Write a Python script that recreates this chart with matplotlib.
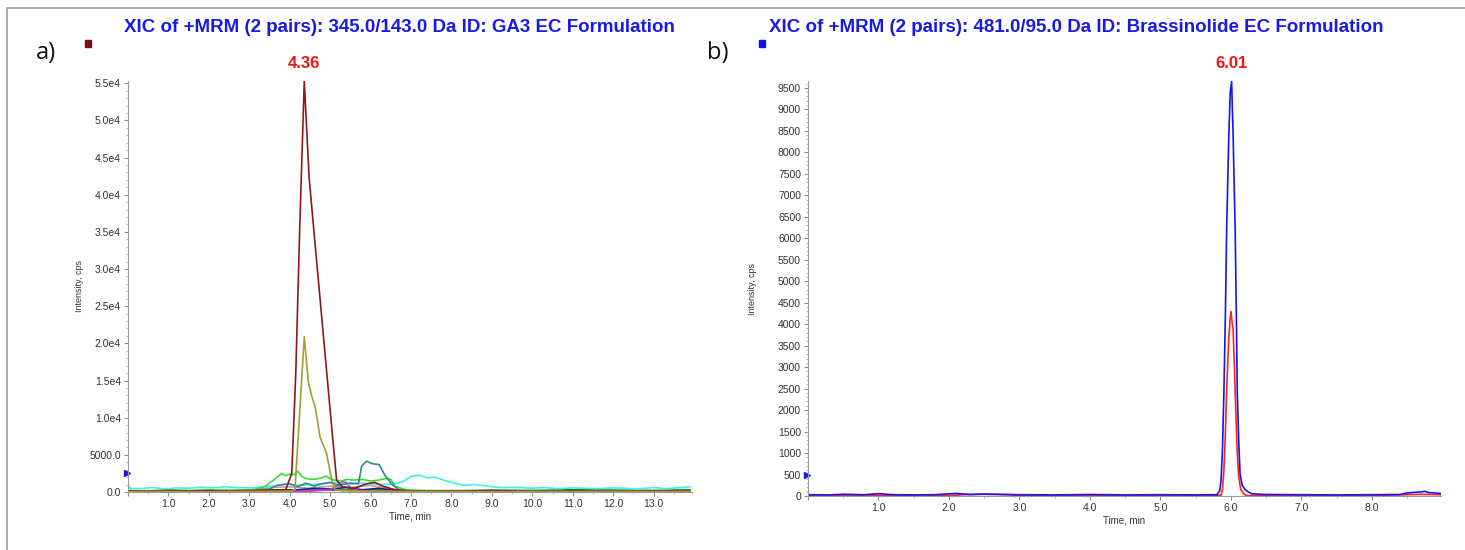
import matplotlib
matplotlib.use("Agg")
import matplotlib.pyplot as plt
import matplotlib.transforms as mtransforms
from matplotlib.ticker import MultipleLocator, FuncFormatter
from matplotlib.patches import Rectangle

plt.rcParams['font.family'] = ['Liberation Sans', 'DejaVu Sans']

# ---------------- panel a) GA3, XIC traces (time in min, intensity in cps)
ga3_t = [0.0, 0.5, 1.0, 1.5, 2.0, 2.5, 3.0, 3.5, 3.9, 4.05, 4.15, 4.25, 4.36,
         4.48, 4.6, 4.75, 4.9, 5.05, 5.16, 5.3, 5.6, 5.9, 6.1, 6.3, 6.6, 7.0,
         8.0, 9.0, 10.0, 11.0, 12.0, 13.0, 13.9]
ga3_v = [150, 120, 200, 150, 180, 130, 200, 250, 300, 2500, 16000, 36000, 55300,
         42300, 35000, 26000, 17000, 8000, 1600, 700, 500, 1100, 1300, 800, 300, 150,
         120, 180, 100, 150, 120, 160, 130]

olive_t = [0.0, 1.0, 2.0, 3.0, 4.0, 4.13, 4.25, 4.36, 4.46, 4.55, 4.63, 4.75,
           4.91, 5.04, 5.12, 5.3, 6.0, 8.0, 10.0, 12.0, 13.9]
olive_v = [50, 60, 40, 80, 100, 300, 11000, 20900, 14800, 12800, 11450, 7400,
           5200, 1600, 300, 150, 100, 60, 50, 70, 60]

teal_t = [0.0, 1.0, 2.0, 3.0, 3.5, 3.7, 4.0, 4.2, 4.4, 4.6, 4.8, 5.0, 5.2, 5.5,
          5.7, 5.78, 5.9, 6.05, 6.21, 6.35, 6.53, 6.74, 7.0, 8.0, 9.0, 10.0,
          11.0, 12.0, 13.0, 13.9]
teal_v = [50, 80, 60, 100, 400, 900, 1100, 700, 1200, 800, 1100, 1300, 900, 1200,
          1100, 3500, 4150, 3800, 3700, 2300, 1000, 150, 80, 60, 70, 50,
          80, 60, 70, 60]

green_t = [0.0, 0.5, 1.0, 1.5, 2.0, 2.5, 3.0, 3.2, 3.4, 3.6, 3.8, 3.9, 4.0, 4.1,
           4.2, 4.3, 4.4, 4.6, 4.8, 4.9, 5.0, 5.1, 5.3, 5.4, 5.6, 5.8, 6.0, 6.2,
           6.4, 6.5, 6.6, 6.8, 7.0, 7.5, 8.0, 9.0, 10.0, 11.0, 12.0, 13.0, 13.9]
green_v = [200, 150, 250, 180, 300, 200, 250, 400, 800, 1600, 2500, 2200, 2400, 2300,
           2800, 2100, 1800, 1700, 1900, 2150, 1800, 1600, 1500, 1700, 1600, 1700, 1480, 1600,
           1830, 1700, 800, 400, 220, 150, 200, 120, 180, 100, 150, 120, 200]

cyan_t = [0.0, 0.05, 0.3, 0.6, 0.9, 1.2, 1.5, 1.8, 2.1, 2.4, 2.7, 3.0, 3.3, 3.6,
          3.9, 4.2, 4.5, 4.8, 5.1, 5.4, 5.7, 6.0, 6.3, 6.6, 6.8, 7.0, 7.2, 7.4,
          7.6, 7.8, 8.0, 8.3, 8.6, 9.0, 9.3, 9.6, 10.0, 10.3, 10.6, 11.0, 11.3,
          11.6, 12.0, 12.3, 12.6, 13.0, 13.3, 13.6, 13.9]
cyan_v = [1000, 500, 450, 600, 400, 550, 500, 650, 550, 700, 600, 550, 650, 800,
          1100, 900, 1000, 1100, 1300, 1000, 1200, 1100, 1000, 1100, 1400, 2100, 2250, 1900,
          2000, 1600, 1300, 900, 1000, 700, 600, 650, 500, 600, 450, 550, 500,
          450, 550, 500, 400, 600, 450, 550, 700]

magenta_t = [0.0, 3.0, 4.5, 5.0, 5.2, 5.3, 5.4, 5.5, 5.7, 6.0, 8.0, 13.9]
magenta_v = [30, 50, 100, 300, 1000, 1400, 1300, 600, 200, 100, 50, 40]

navy_t = [0.0, 3.5, 4.2, 4.6, 5.0, 5.4, 5.8, 6.2, 6.6, 7.0, 13.9]
navy_v = [20, 30, 300, 500, 400, 600, 300, 500, 200, 50, 30]

dkgreen_t = [0, 1, 2, 3, 4, 5, 6, 7, 8, 9, 10, 11, 12, 13, 13.9]
dkgreen_v = [100, 200, 150, 250, 300, 250, 300, 200, 150, 250, 200, 300, 250, 200, 300]

pink_t = [0.0, 3.0, 3.5, 4.0, 4.5, 5.0, 5.5, 6.0, 6.5, 7.0, 13.9]
pink_v = [100, 200, 600, 700, 500, 800, 600, 900, 400, 150, 100]

# ---------------- panel b) Brassinolide
bras_blue_t = [0.0, 0.3, 0.5, 0.8, 1.0, 1.2, 1.5, 1.8, 2.1, 2.3, 2.5, 2.7, 3.0, 3.5,
               4.0, 4.5, 5.0, 5.5, 5.8, 5.84, 5.86, 5.88, 5.9, 5.92, 5.94, 5.97,
               5.99, 6.01, 6.02, 6.03, 6.04, 6.06, 6.08, 6.09, 6.11, 6.13, 6.16,
               6.2, 6.25, 6.3, 6.5, 7.0, 7.5, 8.0, 8.4, 8.5, 8.6, 8.7, 8.75, 8.8,
               8.9, 8.97]
bras_blue_v = [30, 25, 40, 30, 55, 30, 25, 30, 60, 35, 45, 40, 30, 25,
               35, 25, 30, 25, 30, 120, 370, 1100, 2400, 4100, 6270, 8400,
               9400, 9650, 9000, 8500, 7700, 6200, 3800, 2400, 1300, 500, 250,
               150, 90, 50, 35, 30, 25, 30, 35, 70, 85, 95, 110, 80,
               70, 60]

bras_red_t = [0.0, 1.0, 2.0, 2.2, 2.5, 2.8, 3.0, 4.0, 5.0, 5.86, 5.88, 5.9, 5.92,
              5.94, 5.97, 5.99, 6.0, 6.02, 6.03, 6.05, 6.07, 6.09, 6.11, 6.14,
              6.18, 6.22, 7.0, 8.0, 8.5, 8.7, 8.97]
bras_red_v = [10, 15, 10, 30, 40, 30, 10, 10, 10, 20, 150, 600, 1400,
              2500, 3700, 4150, 4290, 4000, 3900, 3000, 1900, 1000, 450, 150,
              50, 10, 10, 10, 30, 40, 30]


def fmt_a(v, pos):
    if v == 0:
        return '0.0'
    if v < 1e4:
        return '%.1f' % v
    return '%.1fe4' % (v / 1e4)


def style_axes(ax):
    for s in ('top', 'right'):
        ax.spines[s].set_visible(False)
    for s in ('left', 'bottom'):
        ax.spines[s].set_color('#9a9a9a')
        ax.spines[s].set_linewidth(0.8)
    ax.tick_params(which='major', length=3, width=0.6, color='#777777',
                   labelcolor='#333333', labelsize=7.5, pad=2)
    ax.tick_params(which='minor', length=1.5, width=0.5, color='#999999')
    ax.set_xlabel('Time, min', fontsize=7, color='#333333', labelpad=2)
    ax.set_ylabel('Intensity, cps', fontsize=6.5, color='#333333', labelpad=10)


fig = plt.figure(figsize=(14.65, 5.5), dpi=100)

# outer frame of the figure
fig.patches.append(Rectangle((7 / 1465, -0.1), 1.2, 1.1 - 8 / 550,
                             transform=fig.transFigure, fill=False,
                             ec='#a0a0a0', lw=1.2))

# ---- a)
ax1 = fig.add_axes([128 / 1465, 1 - 492 / 550, 564 / 1465, 411 / 550])
traces_a = [
    (dkgreen_t, dkgreen_v, '#1e7a1e'),
    (pink_t, pink_v, '#d09a9a'),
    (navy_t, navy_v, '#202090'),
    (magenta_t, magenta_v, '#e030e0'),
    (cyan_t, cyan_v, '#3ff0f0'),
    (green_t, green_v, '#35dd35'),
    (teal_t, teal_v, '#2e8b8b'),
    (ga3_t, ga3_v, '#8b1a1a'),
    (olive_t, olive_v, '#a0a030'),
]
for t, v, c in traces_a:
    ax1.plot(t, v, color=c, lw=1.2)
ax1.set_xlim(0, 13.95)
ax1.set_ylim(0, 55300)
ax1.xaxis.set_major_locator(MultipleLocator(1.0))
ax1.xaxis.set_minor_locator(MultipleLocator(0.5))
ax1.yaxis.set_major_locator(MultipleLocator(5000))
ax1.yaxis.set_minor_locator(MultipleLocator(1000))
ax1.xaxis.set_major_formatter(FuncFormatter(lambda v, p: '' if v == 0 else '%.1f' % v))
ax1.yaxis.set_major_formatter(FuncFormatter(fmt_a))
style_axes(ax1)
ax1.yaxis.set_label_coords(-0.078, 0.5)

# ---- b)
ax2 = fig.add_axes([808 / 1465, 1 - 496 / 550, 633 / 1465, 415 / 550])
ax2.plot(bras_red_t, bras_red_v, color='#ff2020', lw=1.2)
ax2.plot(bras_blue_t, bras_blue_v, color='#1515ee', lw=1.2)
ax2.set_xlim(0, 8.98)
ax2.set_ylim(0, 9660)
ax2.xaxis.set_major_locator(MultipleLocator(1.0))
ax2.xaxis.set_minor_locator(MultipleLocator(0.5))
ax2.yaxis.set_major_locator(MultipleLocator(500))
ax2.yaxis.set_minor_locator(MultipleLocator(100))
ax2.xaxis.set_major_formatter(FuncFormatter(lambda v, p: '' if v == 0 else '%.1f' % v))
ax2.yaxis.set_major_formatter(FuncFormatter(lambda v, p: '%d' % v))
style_axes(ax2)
ax2.yaxis.set_label_coords(-0.08, 0.5)

# blue threshold markers on the y axes
for ax, yv in ((ax1, 2500), (ax2, 500)):
    tr = mtransforms.blended_transform_factory(ax.transAxes, ax.transData)
    ax.plot([-0.002], [yv], marker='>', ms=4.5, color='#1a1ae0',
            transform=tr, clip_on=False)

# peak labels
for ax, pk in ((ax1, 4.36), (ax2, 6.01)):
    ax.annotate('%.2f' % pk, xy=(pk, 1.0), xycoords=('data', 'axes fraction'),
                xytext=(0, 7), textcoords='offset points', ha='center',
                va='bottom', color='#f01414', fontsize=12, fontweight='bold')

# titles, panel letters, colour squares
fig.text(124 / 1465, 1 - 28 / 550,
         'XIC of +MRM (2 pairs): 345.0/143.0 Da ID: GA3 EC Formulation',
         ha='left', va='center', color='#1a1ae6', fontsize=13.5, fontweight='bold')
fig.text(769 / 1465, 1 - 28 / 550,
         'XIC of +MRM (2 pairs): 481.0/95.0 Da ID: Brassinolide EC Formulation',
         ha='left', va='center', color='#1a1ae6', fontsize=13.5, fontweight='bold')
fig.text(36 / 1465, 1 - 53 / 550, 'a)', ha='left', va='center',
         fontsize=17, color='#111111', family=['Open Sans', 'DejaVu Sans'])
fig.text(707 / 1465, 1 - 53 / 550, 'b)', ha='left', va='center',
         fontsize=17, color='#111111', family=['Open Sans', 'DejaVu Sans'])
fig.patches.append(Rectangle((85 / 1465, 1 - 47 / 550), 6 / 1465, 7 / 550,
                             transform=fig.transFigure, color='#7a1010'))
fig.patches.append(Rectangle((759 / 1465, 1 - 47 / 550), 6 / 1465, 7 / 550,
                             transform=fig.transFigure, color='#1010ee'))

fig.savefig('out.png', dpi=100)
